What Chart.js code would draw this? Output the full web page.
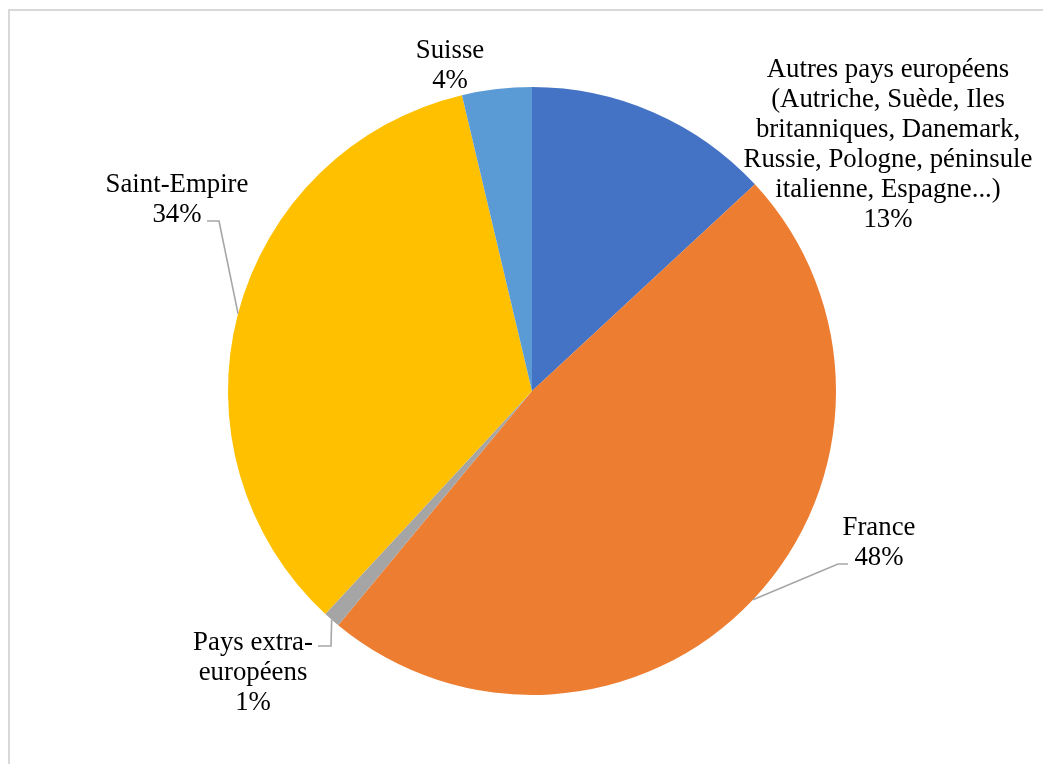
<!DOCTYPE html>
<html>
<head>
<meta charset="utf-8">
<script src="https://cdn.jsdelivr.net/npm/chart.js@4/dist/chart.umd.min.js"></script>
<style>
  html, body { margin: 0; padding: 0; background: #ffffff; overflow: hidden; }
  #wrap { position: relative; width: 1043px; height: 764px; }
  #frame { position: absolute; left: 8px; top: 9px; width: 1100px; height: 800px;
           border-top: 2px solid #d9d9d9; border-left: 2px solid #d9d9d9; }
  canvas { position: absolute; left: 0; top: 0; }
</style>
</head>
<body>
<div id="wrap">
  <div id="frame"></div>
  <canvas id="c" width="1043" height="764"></canvas>
</div>
<script>
// ---- data ----
const categories = [
  "Autres pays européens\n(Autriche, Suède, Iles\nbritanniques, Danemark,\nRussie, Pologne, péninsule\nitalienne, Espagne...)",
  "France",
  "Pays extra-\neuropéens",
  "Saint-Empire",
  "Suisse"
];
const values = [13.1, 47.9, 0.9, 34.4, 3.7];
const colors = ["#4472C4", "#ED7D31", "#A5A5A5", "#FFC000", "#5B9BD5"];

// ---- label layout (annotation positions, not data) ----
const labelLayout = [
  { x: 888, y: 77,  leader: null },
  { x: 879, y: 535, leader: [[848, 564], [838, 564]] },
  { x: 253, y: 650, leader: [[318, 646], [331, 646]] },
  { x: 177, y: 192, leader: [[207, 221], [219, 221]] },
  { x: 450, y: 58,  leader: null }
];

const total = values.reduce((a, b) => a + b, 0);

const labelPlugin = {
  id: 'outLabels',
  afterDatasetsDraw(chart) {
    const ctx = chart.ctx;
    const meta = chart.getDatasetMeta(0);
    ctx.save();
    meta.data.forEach((arc, i) => {
      const L = labelLayout[i];
      const p = arc.getProps(['x', 'y', 'startAngle', 'endAngle', 'outerRadius'], true);
      if (L.leader) {
        const mid = (p.startAngle + p.endAngle) / 2;
        const ex = p.x + Math.cos(mid) * p.outerRadius;
        const ey = p.y + Math.sin(mid) * p.outerRadius;
        ctx.beginPath();
        ctx.strokeStyle = '#a6a6a6';
        ctx.lineWidth = 1.6;
        ctx.moveTo(L.leader[0][0], L.leader[0][1]);
        for (let k = 1; k < L.leader.length; k++) ctx.lineTo(L.leader[k][0], L.leader[k][1]);
        ctx.lineTo(ex, ey);
        ctx.stroke();
      }
      const lines = categories[i].split('\n');
      lines.push(Math.round(values[i] / total * 100) + '%');
      ctx.fillStyle = '#000000';
      ctx.font = '26.8px "Liberation Serif", "Times New Roman", serif';
      ctx.textAlign = 'center';
      ctx.textBaseline = 'alphabetic';
      lines.forEach((t, j) => ctx.fillText(t, L.x, L.y + j * 30));
    });
    ctx.restore();
  }
};

new Chart(document.getElementById('c'), {
  type: 'pie',
  data: {
    labels: categories,
    datasets: [{
      data: values,
      backgroundColor: colors,
      borderWidth: 0
    }]
  },
  options: {
    responsive: false,
    animation: false,
    layout: { padding: { left: 228, right: 207, top: 87, bottom: 69 } },
    plugins: {
      legend: { display: false },
      tooltip: { enabled: false }
    }
  },
  plugins: [labelPlugin]
});
</script>
</body>
</html>
